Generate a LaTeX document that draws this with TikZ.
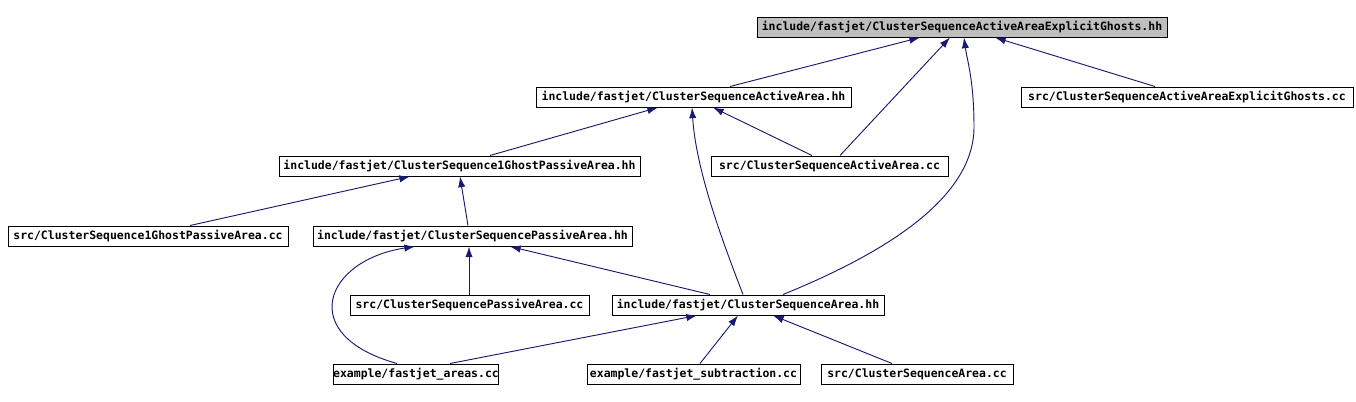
\documentclass[tikz,border=0pt]{standalone}
\usepackage{fontspec}
\newfontfamily\boxfont{DejaVu Sans Mono}
\usetikzlibrary{arrows.meta,calc}
\definecolor{edgeblue}{HTML}{191970}
\definecolor{topgray}{HTML}{BFBFBF}
\tikzset{
  filebox/.style={draw=black,line width=0.75pt,inner sep=0pt,minimum height=15pt,
    font=\boxfont\bfseries\fontsize{8.6}{10}\selectfont,text=black},
  dep/.style={draw=edgeblue,line width=0.7pt,-{Latex[length=8pt,width=5.5pt]}},
}
\begin{document}
\begin{tikzpicture}[x=0.75pt,y=-0.75pt]
\useasboundingbox (0,0) rectangle (1356,401);
\node[filebox,fill=topgray,minimum width=307.5pt] (top) at (962,27) {include/fastjet/ClusterSequenceActiveAreaExplicitGhosts.hh};
\node[filebox,minimum width=236.25pt] (aa) at (693.5,97) {include/fastjet/ClusterSequenceActiveArea.hh};
\node[filebox,minimum width=249pt] (eg) at (1187,97) {src/ClusterSequenceActiveAreaExplicitGhosts.cc};
\node[filebox,minimum width=270.75pt] (g1) at (459.5,166) {include/fastjet/ClusterSequence1GhostPassiveArea.hh};
\node[filebox,minimum width=177.75pt] (aacc) at (829.5,166) {src/ClusterSequenceActiveArea.cc};
\node[filebox,minimum width=210pt] (g1cc) at (148,236) {src/ClusterSequence1GhostPassiveArea.cc};
\node[filebox,minimum width=239.25pt] (pa) at (472.5,236) {include/fastjet/ClusterSequencePassiveArea.hh};
\node[filebox,minimum width=179.25pt] (pacc) at (469.5,305) {src/ClusterSequencePassiveArea.cc};
\node[filebox,minimum width=204pt] (csa) at (748,305) {include/fastjet/ClusterSequenceArea.hh};
\node[filebox,minimum width=120pt] (areas) at (416,374) {example/fastjet\_areas.cc};
\node[filebox,minimum width=159.75pt] (sub) at (693.5,374) {example/fastjet\_subtraction.cc};
\node[filebox,minimum width=144pt] (csacc) at (917,374) {src/ClusterSequenceArea.cc};

\draw[dep] ($(aa.north)+(36.5,0)$) -- ($(top.south)+(-42,0)$);
\draw[dep] ($(aacc.north)+(10.5,0)$) -- ($(top.south)+(-12,0)$);
\draw[dep] ($(csa.north)+(35,0)$) .. controls (880,255) and (974,200) .. (974,127) .. controls (974,80) and (967,60) .. ($(top.south)+(2,0)$);
\draw[dep] ($(eg.north)+(-32,0)$) -- ($(top.south)+(33,0)$);
\draw[dep] ($(g1.north)+(30.5,0)$) -- ($(aa.south)+(-35.5,0)$);
\draw[dep] ($(aacc.north)+(-17.5,0)$) -- ($(aa.south)+(19.5,0)$);
\draw[dep] ($(csa.north)+(-5,0)$) .. controls (722,240) and (696,170) .. ($(aa.south)+(-1.5,0)$);
\draw[dep] ($(g1cc.north)+(42,0)$) -- ($(g1.south)+(-49.5,0)$);
\draw[dep] ($(pa.north)+(-4.5,0)$) -- ($(g1.south)+(0.5,0)$);
\draw[dep] ($(pacc.north)+(-0.5,0)$) -- ($(pa.south)+(-3.5,0)$);
\draw[dep] ($(csa.north)+(-38,0)$) -- ($(pa.south)+(37.5,0)$);
\draw[dep] ($(areas.north)+(-19,0)$) .. controls (295,335) and (325,260) .. ($(pa.south)+(-57.5,0)$);
\draw[dep] ($(areas.north)+(34,0)$) -- ($(csa.south)+(-51,0)$);
\draw[dep] ($(sub.north)+(6.5,0)$) -- ($(csa.south)+(-10,0)$);
\draw[dep] ($(csacc.north)+(-25,0)$) -- ($(csa.south)+(25,0)$);
\end{tikzpicture}
\end{document}
